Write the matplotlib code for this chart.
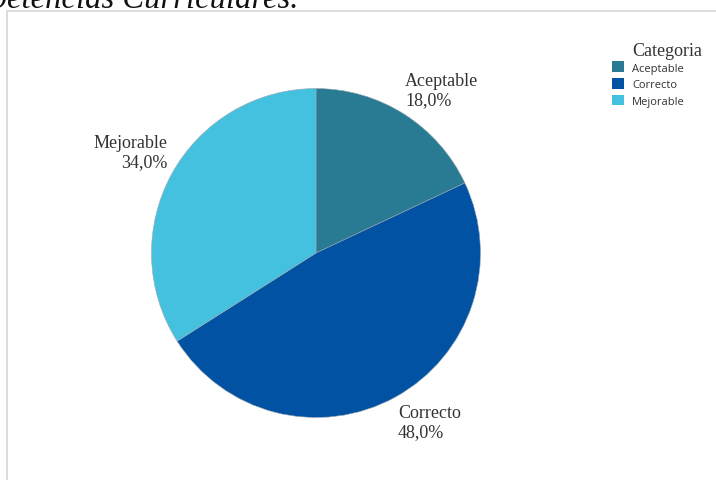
import matplotlib.pyplot as plt
from matplotlib.patches import Patch
from matplotlib.lines import Line2D

categories = ["Aceptable", "Correcto", "Mejorable"]
percentages = [18.0, 48.0, 34.0]
colors = ["#287B93", "#0152A3", "#45C1E0"]
caption = "Competencias Curriculares."
legend_title = "Categoria"

W, H = 716, 481
fig = plt.figure(figsize=(W / 100, H / 100), dpi=100)
ax = fig.add_axes([0, 0, 1, 1])

# frame lines of the chart area
fig.add_artist(Line2D([8 / W, 1], [1 - 11.5 / H, 1 - 11.5 / H], color="#d6d6d6", lw=1.2))
fig.add_artist(Line2D([7.5 / W, 7.5 / W], [0, 1 - 11.5 / H], color="#d6d6d6", lw=1.2))

# caption running above the chart
fig.text(298 / W, 1 - 8 / H, caption, ha="right", va="baseline",
         fontsize=23.5, family="Liberation Serif", style="italic", color="#111111")

cx, cy, r = 316, H - 254, 164.5
ax.pie(percentages, colors=colors, startangle=90, counterclock=False,
       center=(cx, cy), radius=r, frame=True,
       wedgeprops=dict(edgecolor="#9aa8b0", linewidth=0.4))
ax.set_xlim(0, W)
ax.set_ylim(0, H)
ax.set_aspect("equal")
ax.axis("off")

def pct(v):
    return f"{v:.1f}".replace(".", ",") + "%"

label_pos = {
    "Aceptable": (405, 91, "left"),
    "Correcto": (398, 423, "left"),
    "Mejorable": (168, 153, "right"),
}
for name, val in zip(categories, percentages):
    x, y, ha = label_pos[name]
    ax.text(x, H - y, f"{name}\n{pct(val)}", ha=ha, va="center",
            fontsize=13, family="Liberation Serif", color="#333333",
            linespacing=1.15)

fig.text(632 / W, 1 - 52 / H, legend_title, ha="left", va="center",
         fontsize=13, family="Liberation Serif", color="#333333")

handles = [Patch(facecolor=c, edgecolor="none") for c in colors]
leg = fig.legend(handles, categories,
                 loc="upper left", bbox_to_anchor=(607.5 / W, 1 - 58 / H),
                 frameon=False, fontsize=8, handlelength=1.1, handleheight=1.1,
                 handletextpad=0.7, labelspacing=0.4, borderaxespad=0)
for t in leg.get_texts():
    t.set_fontfamily("Open Sans")
    t.set_color("#333333")

fig.savefig("out.png", dpi=100)
